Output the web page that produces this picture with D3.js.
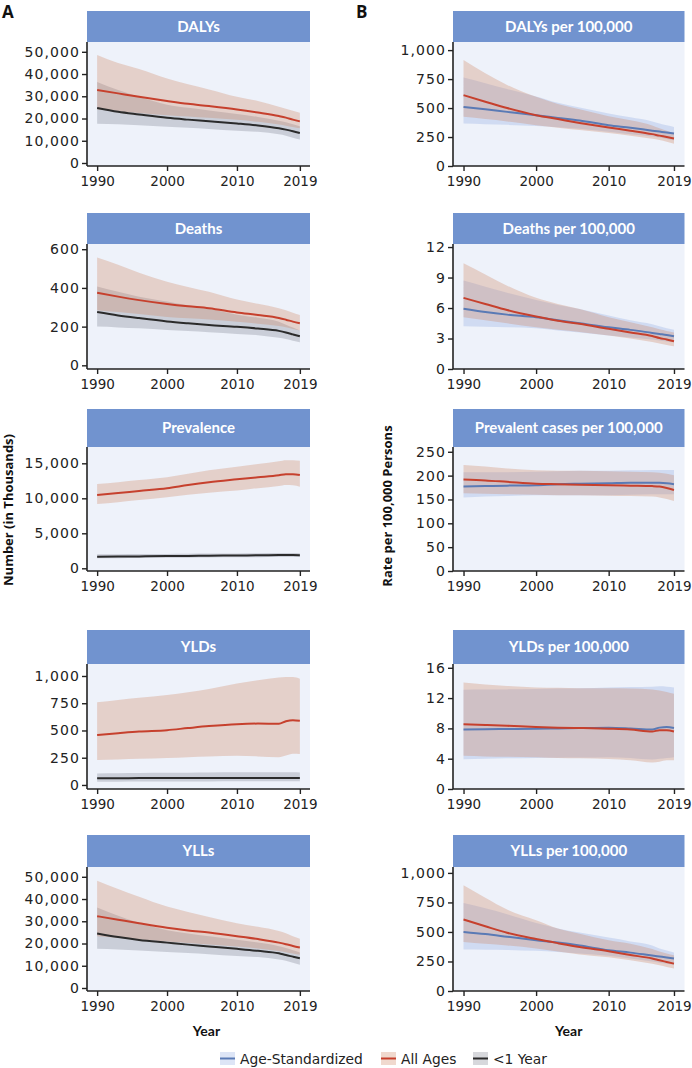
<!DOCTYPE html>
<html><head><meta charset="utf-8">
<script src="https://cdn.jsdelivr.net/npm/d3@7"></script>
<style>
html,body{margin:0;padding:0;background:#fff;}
svg{display:block;}
</style></head>
<body>
<svg id="chart" width="692" height="1068"></svg>
<script>
// ---------------- DATA ----------------
const years = [1990, 1993, 1996, 2000, 2003, 2006, 2010, 2013, 2016, 2017, 2018, 2019];
const xTicks = [1990, 2000, 2010, 2019];
const legendLabels = ["Age-Standardized", "All Ages", "<1 Year"];

// Panel A (numbers, thousands)
const dalys_all = {mean:[32800,31300,29800,27900,26600,25600,24100,22700,21100,20400,19500,18700],
  lo:[24000,23300,22500,21500,20900,20300,19400,18500,17300,16800,16200,15600],
  hi:[48600,45000,42300,38000,35400,33100,29800,27900,25300,24400,23500,22600]};
const dalys_u1 = {mean:[24700,23000,21800,20300,19500,18800,17800,16900,15600,15000,14300,13500],
  lo:[17700,17400,17000,16300,15800,15300,14500,14000,12900,12300,11400,10600],
  hi:[36400,32800,29800,26200,24800,23600,22000,20700,19000,18300,17400,16500]};

const deaths_all = {mean:[375,355,337,317,305,295,273,260,245,236,226,217],
  lo:[285,275,265,250,243,237,225,215,203,197,188,180],
  hi:[557,520,478,432,405,380,340,318,295,285,272,260]};
const deaths_u1 = {mean:[275,258,244,227,217,208,199,190,178,170,160,150],
  lo:[200,196,191,183,177,171,162,156,142,136,127,119],
  hi:[407,380,355,330,310,292,262,246,225,210,195,180]};

const prev_all = {mean:[10470,10750,11050,11430,11900,12300,12710,13000,13300,13450,13450,13330],
  lo:[9190,9450,9750,10140,10500,10800,11100,11450,11750,11900,11850,11660],
  hi:[12040,12300,12600,13000,13500,14000,14500,14900,15300,15450,15450,15380]};
const prev_u1 = {mean:[1660,1680,1700,1740,1770,1800,1830,1860,1890,1900,1900,1880],
  lo:[1430,1450,1470,1500,1520,1550,1570,1590,1620,1630,1630,1620],
  hi:[1990,2010,2030,2060,2090,2110,2130,2160,2180,2190,2180,2150]};

const ylds_all = {mean:[459,475,490,503,522,540,558,563,562,585,595,590],
  lo:[229,234,240,247,255,262,268,262,254,270,286,285],
  hi:[759,780,800,826,850,880,930,960,985,990,990,975]};
const ylds_u1 = {mean:[62,62,63,63,64,64,65,65,65,65,65,65],
  lo:[30,30,31,31,32,32,33,33,33,33,33,33],
  hi:[105,107,109,111,113,115,117,117,117,117,116,115]};

const ylls_all = {mean:[32300,30700,29100,27100,25900,24900,23300,22000,20400,19700,18900,18200],
  lo:[23300,22600,21800,20900,20200,19600,18700,17800,16600,16100,15500,14900],
  hi:[48200,44500,41000,36600,34200,31900,29100,27500,25600,24600,23300,22100]};
const ylls_u1 = {mean:[24500,22900,21600,20400,19500,18700,17600,16700,15600,14800,14100,13400],
  lo:[17600,17300,16900,16200,15700,15200,14400,13900,12800,12200,11300,10500],
  hi:[36200,32500,29300,26000,24500,23300,21700,20400,18800,18000,17000,16000]};

// Panel B (rates per 100,000)
const dalysR_all = {mean:[611,555,500,438,405,372,332,305,275,262,250,237],
  lo:[424,405,385,352,330,310,285,262,235,225,210,193],
  hi:[914,800,700,597,535,490,430,395,350,325,305,285]};
const dalysR_std = {mean:[510,490,467,438,415,392,352,330,305,297,289,280],
  lo:[366,360,355,345,335,322,295,275,255,245,233,222],
  hi:[764,715,665,600,545,505,453,420,385,367,352,337]};

const deathsR_all = {mean:[7.0,6.4,5.8,5.16,4.75,4.45,3.95,3.6,3.25,3.05,2.9,2.73],
  lo:[5.1,4.8,4.5,4.1,3.85,3.65,3.3,3.0,2.65,2.5,2.35,2.23],
  hi:[10.4,9.3,8.2,7.0,6.4,5.9,5.1,4.6,4.1,3.9,3.75,3.6]};
const deathsR_std = {mean:[5.92,5.6,5.35,5.1,4.8,4.5,4.1,3.85,3.55,3.45,3.35,3.22],
  lo:[4.2,4.15,4.1,4.0,3.8,3.6,3.3,3.1,2.9,2.8,2.7,2.63],
  hi:[8.7,8.1,7.5,6.8,6.3,5.9,5.26,4.8,4.4,4.2,4.0,3.85]};

const prevR_all = {mean:[192,190,187,183,182,181,180,179,178,177,174,170],
  lo:[163,162,161,160,159,159,158,157,156,154,151,147],
  hi:[222,219,215,211,210,210,209,208,207,206,204,201]};
const prevR_std = {mean:[177,178,179,180,182,183,184,185,185,185,184,182],
  lo:[154,156,157,159,159,159,159,160,161,161,161,161],
  hi:[207,207,207,208,209,210,210,211,212,212,212,212]};

const yldsR_all = {mean:[8.54,8.45,8.35,8.18,8.1,8.05,7.96,7.85,7.6,7.75,7.75,7.6],
  lo:[4.38,4.3,4.25,4.2,4.1,4.05,3.97,3.8,3.5,3.6,3.8,3.8],
  hi:[14.07,13.8,13.6,13.4,13.35,13.3,13.3,13.25,13.15,13.0,12.8,12.56]};
const yldsR_std = {mean:[7.87,7.9,7.92,7.95,8.0,8.05,8.1,8.0,7.85,8.1,8.2,8.05],
  lo:[3.94,4.0,4.05,4.1,4.12,4.15,4.2,4.1,3.9,4.0,4.1,4.2],
  hi:[13.1,13.12,13.15,13.2,13.25,13.3,13.4,13.45,13.5,13.55,13.5,13.4]};

const yllsR_all = {mean:[605,548,493,440,405,372,336,305,275,260,246,232],
  lo:[415,400,385,360,335,310,285,260,230,218,204,190],
  hi:[896,790,690,600,530,485,430,400,355,335,318,302]};
const yllsR_std = {mean:[500,482,460,430,410,385,345,325,300,292,284,275],
  lo:[351,350,348,340,330,318,298,275,250,240,230,220],
  hi:[745,700,650,575,530,495,452,420,385,360,342,325]};

// tick values
const ticksA1 = [0,10000,20000,30000,40000,50000];
const ticksA2 = [0,200,400,600];
const ticksA3 = [0,5000,10000,15000];
const ticksA4 = [0,250,500,750,1000];
const ticksB1 = [0,250,500,750,1000];
const ticksB2 = [0,3,6,9,12];
const ticksB3 = [0,50,100,150,200,250];
const ticksB4 = [0,4,8,12,16];

// ---------------- STYLE / LAYOUT ----------------
const COL = {
  red:  {line:"#c6402d", fill:"rgb(205,129,93)", op:0.3},
  blk:  {line:"#2b2b2b", fill:"rgb(95,100,115)", op:0.25},
  blue: {line:"#5a7ab5", fill:"rgb(120,150,220)", op:0.25}
};
const cols = [{x0:87, x1:310}, {x0:453, x1:684.5}];
const rows = [
  {st:11, top:42, bot:166},
  {st:213, top:244, bot:369},
  {st:409, top:447, bot:571},
  {st:630, top:664, bot:789},
  {st:835, top:867, bot:991}
];

const panels = [
  {c:0,r:0,title:"DALYs", dom:[-1350,54400], ticks:ticksA1, series:[["blk",dalys_u1],["red",dalys_all]]},
  {c:0,r:1,title:"Deaths", dom:[-19,627], ticks:ticksA2, series:[["blk",deaths_u1],["red",deaths_all]]},
  {c:0,r:2,title:"Prevalence", dom:[-386,17330], ticks:ticksA3, series:[["blk",prev_u1],["red",prev_all]]},
  {c:0,r:3,title:"YLDs", dom:[-37,1110], ticks:ticksA4, series:[["blk",ylds_u1],["red",ylds_all]]},
  {c:0,r:4,title:"YLLs", dom:[-1350,54400], ticks:ticksA1, series:[["blk",ylls_u1],["red",ylls_all]]},
  {c:1,r:0,title:"DALYs per 100,000", dom:[0,1070], ticks:ticksB1, series:[["blue",dalysR_std],["red",dalysR_all]]},
  {c:1,r:1,title:"Deaths per 100,000", dom:[0,12.3], ticks:ticksB2, series:[["blue",deathsR_std],["red",deathsR_all]]},
  {c:1,r:2,title:"Prevalent cases per 100,000", dom:[0,260], ticks:ticksB3, series:[["blue",prevR_std],["red",prevR_all]]},
  {c:1,r:3,title:"YLDs per 100,000", dom:[0,16.5], ticks:ticksB4, series:[["blue",yldsR_std],["red",yldsR_all]]},
  {c:1,r:4,title:"YLLs per 100,000", dom:[0,1050], ticks:ticksB1, series:[["blue",yllsR_std],["red",yllsR_all]]}
];

const svg = d3.select("#chart");
const tickFont = "DejaVu Sans, sans-serif";
const fmt = d3.format(",");

panels.forEach(p => {
  const C = cols[p.c], R = rows[p.r];
  const g = svg.append("g");
  const x = d3.scaleLinear().domain([1988.55, 2020.45]).range([C.x0, C.x1]);
  const y = d3.scaleLinear().domain(p.dom).range([R.bot, R.top]);

  // strip
  g.append("rect").attr("x", C.x0).attr("y", R.st).attr("width", C.x1 - C.x0).attr("height", R.top - R.st)
    .attr("fill", "#7193cf");
  g.append("text").attr("x", (C.x0 + C.x1) / 2).attr("y", (R.st + R.top) / 2 + 5)
    .attr("text-anchor", "middle").attr("fill", "#fff")
    .style("font", "bold 15px Lato, sans-serif").text(p.title);
  // panel bg
  g.append("rect").attr("x", C.x0).attr("y", R.top).attr("width", C.x1 - C.x0).attr("height", R.bot - R.top)
    .attr("fill", "#eef2fa");

  const area = d3.area().x((d,i) => x(years[i])).y0(d => y(d[0])).y1(d => y(d[1])).curve(d3.curveMonotoneX);
  const line = d3.line().x((d,i) => x(years[i])).y(d => y(d)).curve(d3.curveMonotoneX);

  p.series.forEach(([k, s]) => {
    const band = s.lo.map((v,i) => [v, s.hi[i]]);
    g.append("path").attr("d", area(band)).attr("fill", COL[k].fill).attr("fill-opacity", COL[k].op);
  });
  p.series.forEach(([k, s]) => {
    g.append("path").attr("d", line(s.mean)).attr("fill", "none").attr("stroke", COL[k].line).attr("stroke-width", 2);
  });

  // axes
  const yAxis = d3.axisLeft(y).tickValues(p.ticks).tickFormat(fmt).tickSize(5).tickPadding(2);
  const ya = g.append("g").attr("transform", `translate(${C.x0},0)`).call(yAxis);
  ya.select(".domain").attr("d", `M0,${R.top}V${R.bot}`);
  const xAxis = d3.axisBottom(x).tickValues(xTicks).tickFormat(d3.format("d")).tickSize(5).tickPadding(5);
  const xa = g.append("g").attr("transform", `translate(0,${R.bot})`).call(xAxis);
  xa.select(".domain").attr("d", `M${C.x0},0H${C.x1}`);
  [ya, xa].forEach(a => {
    a.selectAll(".domain").attr("stroke", "#222").attr("stroke-width", 1.6);
    a.selectAll(".tick line").attr("stroke", "#222").attr("stroke-width", 1.4);
    a.selectAll(".tick text").attr("fill", "#222").style("font-family", tickFont);
  });
  ya.selectAll(".tick text").style("font-size", "14px").style("letter-spacing", "1.1px");
  xa.selectAll(".tick text").style("font-size", "13.5px");
});

// panel letters
svg.append("text").attr("x", 2).attr("y", 18).style("font", "bold 17px 'Open Sans', sans-serif").attr("fill", "#111").text("A");
svg.append("text").attr("x", 356).attr("y", 18).style("font", "bold 17px 'Open Sans', sans-serif").attr("fill", "#111").text("B");

// axis titles
svg.append("text").attr("transform", "translate(13,510) rotate(-90)").attr("text-anchor", "middle")
  .style("font", "bold 13px 'Open Sans', sans-serif").attr("fill", "#111").text("Number (in Thousands)");
svg.append("text").attr("transform", "translate(392,506) rotate(-90)").attr("text-anchor", "middle")
  .style("font", "bold 13px 'Open Sans', sans-serif").attr("fill", "#111").text("Rate per 100,000 Persons");
svg.append("text").attr("x", (cols[0].x0 + cols[0].x1)/2 + 8).attr("y", 1036).attr("text-anchor", "middle")
  .style("font", "bold 14px Lato, sans-serif").attr("fill", "#111").text("Year");
svg.append("text").attr("x", (cols[1].x0 + cols[1].x1)/2).attr("y", 1036).attr("text-anchor", "middle")
  .style("font", "bold 14px Lato, sans-serif").attr("fill", "#111").text("Year");

// legend
const legKeys = ["blue", "red", "blk"];
const legX = [220, 381, 473];
const lg = svg.append("g");
legendLabels.forEach((lab, i) => {
  const k = legKeys[i], x0 = legX[i];
  lg.append("rect").attr("x", x0).attr("y", 1052).attr("width", 15).attr("height", 13)
    .attr("fill", COL[k].fill).attr("fill-opacity", COL[k].op);
  lg.append("line").attr("x1", x0).attr("x2", x0 + 15).attr("y1", 1058.5).attr("y2", 1058.5)
    .attr("stroke", COL[k].line).attr("stroke-width", 2);
  lg.append("text").attr("x", x0 + 20).attr("y", 1063.5).style("font-family", tickFont).style("font-size", "13.8px")
    .attr("fill", "#222").text(lab);
});
</script>
</body></html>
